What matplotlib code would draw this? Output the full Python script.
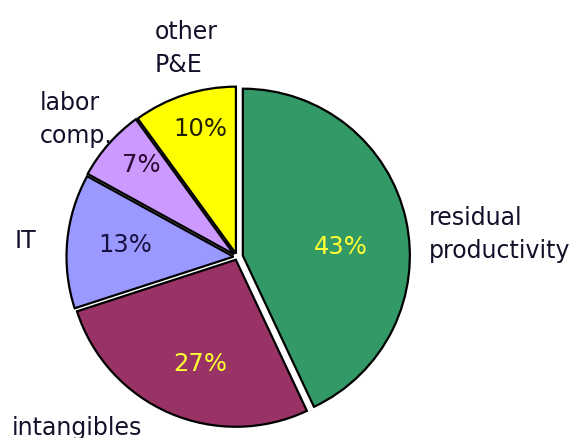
import numpy as np
import matplotlib
matplotlib.use("Agg")
import matplotlib.pyplot as plt

# ---- data ----
categories = ["residual\nproductivity", "intangibles", "IT", "labor\ncomp.", "other\nP&E"]
shares = [43, 27, 13, 7, 10]
pct_labels = ["43%", "27%", "13%", "7%", "10%"]
colors = ["#339966", "#993366", "#9999FF", "#CC99FF", "#FFFF00"]
pct_colors = ["#FFFF33", "#FFFF33", "#1a1040", "#2a0a30", "#202000"]

# ---- style ----
explode_px = [6.0, 3.0, 3.5, 4.0, 3.5]
pct_r = [0.59, 0.655, 0.655, 0.775, 0.78]
pct_dang = [-6.8, 4.3, -1.4, -3.0, -2.1]
# category label anchors (image pixel coords, left / baseline of last line)
cat_pos = [(429, 258), (12, 435), (15, 248), (40, 143), (155, 72)]

plt.rcParams['font.family'] = ['DejaVu Sans']
W, H = 570, 439
fig = plt.figure(figsize=(W / 100, H / 100), dpi=100)
ax = fig.add_axes([0, 0, 1, 1])

cx, cy, R = 237, H - 258, 167
wedges, _ = ax.pie(shares, colors=colors, startangle=90, counterclock=False,
                   explode=explode_px, center=(cx, cy), radius=R, frame=True,
                   wedgeprops=dict(edgecolor='black', linewidth=1.6))
ax.set_xlim(0, W)
ax.set_ylim(0, H)
ax.set_aspect('equal')
ax.axis('off')

for w, lab, col, r, da in zip(wedges, pct_labels, pct_colors, pct_r, pct_dang):
    mid = np.deg2rad((w.theta1 + w.theta2) / 2 + da)
    x = w.center[0] + r * R * np.cos(mid)
    y = w.center[1] + r * R * np.sin(mid)
    ax.text(x, y, lab, ha='center', va='center', fontsize=17.5, color=col)

for lab, (px, py) in zip(categories, cat_pos):
    ax.text(px, H - py, lab, ha='left', va='baseline', fontsize=17,
            color='#14102a', linespacing=1.45)

fig.savefig("out.png", dpi=100)
